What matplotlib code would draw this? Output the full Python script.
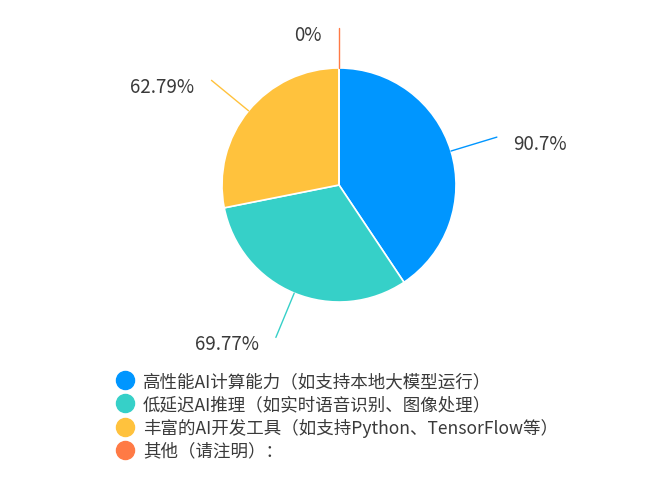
import numpy as np
import matplotlib.pyplot as plt
from matplotlib.lines import Line2D

plt.rcParams['font.family'] = ['Noto Sans CJK SC', 'DejaVu Sans']

# 数据
categories = [
    '高性能AI计算能力（如支持本地大模型运行）',
    '低延迟AI推理（如实时语音识别、图像处理）',
    '丰富的AI开发工具（如支持Python、TensorFlow等）',
    '其他（请注明）：',
]
values = [90.7, 69.77, 62.79, 0]
value_labels = ['90.7%', '69.77%', '62.79%', '0%']
colors = ['#0096ff', '#36d0c8', '#ffc23d', '#ff7a45']

W, H = 660, 502
fig = plt.figure(figsize=(W / 100, H / 100), dpi=100)
ax = fig.add_axes([0, 0, 1, 1])

cx, cy, R = 339, H - 186, 117
wedges, _ = ax.pie(values, colors=colors, startangle=90, counterclock=False,
                   center=(cx, cy), radius=R,
                   wedgeprops=dict(edgecolor='white', linewidth=1.2))

ax.set_xlim(0, W)
ax.set_ylim(0, H)
ax.set_aspect('equal')
ax.axis('off')

# 标签 + 引导线
for w, lab, c in zip(wedges, value_labels, colors):
    ang = np.deg2rad((w.theta1 + w.theta2) / 2)
    dx, dy = np.cos(ang), np.sin(ang)
    k = 1.34 if abs(dx) < 0.01 else 1.41
    x0, y0 = cx + R * dx, cy + R * dy
    x1, y1 = cx + R * k * dx, cy + R * k * dy
    ax.plot([x0, x1], [y0, y1], color=c, lw=1, solid_capstyle='round')
    left = dx < 0.01
    tx = x1 - 17 if left else x1 + 16
    ax.text(tx, y1 - 6.5, lab, ha='right' if left else 'left', va='center',
            fontsize=13.5, color='#3a3a3a')

handles = [Line2D([], [], marker='o', ls='', color=c, markersize=13) for c in colors]
ax.legend(handles, categories, loc='upper left', bbox_to_anchor=(116 / W, 1 - 373 / H),
          bbox_transform=fig.transFigure, frameon=False, fontsize=12.6,
          handletextpad=0.55, labelspacing=0.28, handlelength=1.0,
          borderaxespad=0, borderpad=0, labelcolor='#3a3a3a')

fig.savefig('out.png', dpi=100)
